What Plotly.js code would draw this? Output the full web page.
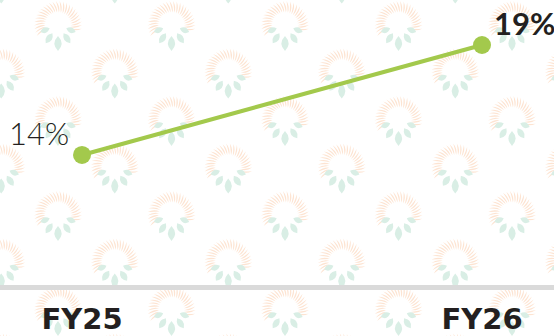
<!DOCTYPE html>
<html>
<head>
<meta charset="utf-8">
<script src="https://cdn.plot.ly/plotly-3.0.1.min.js"></script>
<style>
  html, body { margin: 0; padding: 0; background: #ffffff; }
  #wrap { position: relative; width: 554px; height: 336px; overflow: hidden; }
  #bg { position: absolute; left: 0; top: 0; }
  #chart { position: absolute; left: 0; top: 0; width: 554px; height: 336px; }
</style>
</head>
<body>
<div id="wrap">
  <svg id="bg" width="554" height="336" xmlns="http://www.w3.org/2000/svg"></svg>
  <div id="chart"></div>
</div>
<script>
// ---- data ----
const categories = ['FY25', 'FY26'];
const values = [14, 19];
const valueLabels = ['14%', '19%'];

// ---- decorative watermark pattern (background only) ----
(function buildPattern() {
  const svg = document.getElementById('bg');
  const tileW = 113.5, tileH = 95;
  let icon = '';
  const f = v => v.toFixed(2);
  // rays (orange), swirled
  const nR = 26;
  for (let k = 0; k < nR; k++) {
    const a = (-18 + (216 * k) / (nR - 1)) * Math.PI / 180;
    const r1 = 12.5, r2 = 24;
    const x1 = r1 * Math.cos(a), y1 = -r1 * Math.sin(a);
    const x2 = r2 * Math.cos(a + 0.16), y2 = -r2 * Math.sin(a + 0.16);
    const am = a + 0.02, rm = 18.5;
    const w = 1.4;
    const cx1 = rm * Math.cos(am) + w * Math.sin(am), cy1 = -rm * Math.sin(am) + w * Math.cos(am);
    const cx2 = rm * Math.cos(am) - w * Math.sin(am), cy2 = -rm * Math.sin(am) - w * Math.cos(am);
    icon += `<path d="M${f(x1)},${f(y1)} Q${f(cx1)},${f(cy1)} ${f(x2)},${f(y2)} Q${f(cx2)},${f(cy2)} ${f(x1)},${f(y1)}Z" fill="#fde4d2"/>`;
  }
  // leaves (green)
  const leaves = [[-158, 9, 19, 2.8], [-124, 10, 22, 3.2], [-90, 11, 26, 3.6], [-56, 10, 22, 3.2], [-22, 9, 19, 2.8]];
  leaves.forEach(([deg, r1, r2, w]) => {
    const a = deg * Math.PI / 180;
    const x1 = r1 * Math.cos(a), y1 = -r1 * Math.sin(a);
    const x2 = r2 * Math.cos(a), y2 = -r2 * Math.sin(a);
    const rm = (r1 + r2) / 2;
    const cx1 = rm * Math.cos(a) + 2 * w * Math.sin(a), cy1 = -rm * Math.sin(a) + 2 * w * Math.cos(a);
    const cx2 = rm * Math.cos(a) - 2 * w * Math.sin(a), cy2 = -rm * Math.sin(a) - 2 * w * Math.cos(a);
    icon += `<path d="M${f(x1)},${f(y1)} Q${f(cx1)},${f(cy1)} ${f(x2)},${f(y2)} Q${f(cx2)},${f(cy2)} ${f(x1)},${f(y1)}Z" fill="#d9eee5"/>`;
  });
  let content = `<defs><g id="ico">${icon}</g></defs>`;
  for (let row = -1; row < 5; row++) {
    for (let col = -1; col < 7; col++) {
      const xa = 58 + tileW * col, ya = 25 + tileH * row;
      content += `<use href="#ico" x="${xa}" y="${ya}"/>`;
      const xb = 58 - tileW / 2 + tileW * col, yb = 25 + tileH / 2 + tileH * row;
      content += `<use href="#ico" x="${xb}" y="${yb}"/>`;
    }
  }
  svg.innerHTML = content;
})();

// ---- chart ----
const green = '#a3c94c';
const textColor = '#231f20';
const trace = {
  type: 'scatter',
  mode: 'lines+markers',
  x: categories,
  y: values,
  line: { color: green, width: 4 },
  marker: { color: green, size: 18 },
  cliponaxis: false,
  hoverinfo: 'skip'
};

// value labels anchored to the data points through the axes
const labelStyle = [
  { weight: 300, xanchor: 'right', xshift: -11 },
  { weight: 700, xanchor: 'left', xshift: 10 }
];
const annotations = categories.map((c, i) => ({
  x: c,
  y: values[i],
  xref: 'x',
  yref: 'y',
  text: valueLabels[i],
  showarrow: false,
  xanchor: labelStyle[i].xanchor,
  yanchor: 'middle',
  xshift: labelStyle[i].xshift,
  yshift: 22,
  font: { family: 'Lato', size: 31, color: textColor, weight: labelStyle[i].weight }
}));

const layout = {
  width: 554,
  height: 336,
  margin: { l: 0, r: 0, t: 0, b: 51, pad: 0 },
  paper_bgcolor: 'rgba(0,0,0,0)',
  plot_bgcolor: 'rgba(0,0,0,0)',
  showlegend: false,
  annotations: annotations,
  xaxis: {
    type: 'category',
    range: [-0.205, 1.18],
    showgrid: false,
    zeroline: false,
    showline: true,
    linecolor: '#dadada',
    linewidth: 5,
    ticks: '',
    ticklabelstandoff: 4,
    tickfont: { family: 'DejaVu Sans', size: 29, weight: 700, color: textColor },
    fixedrange: true
  },
  yaxis: {
    visible: false,
    range: [8.09, 21.045],
    fixedrange: true
  }
};

Plotly.newPlot('chart', [trace], layout, { displayModeBar: false, staticPlot: true });
</script>
</body>
</html>
